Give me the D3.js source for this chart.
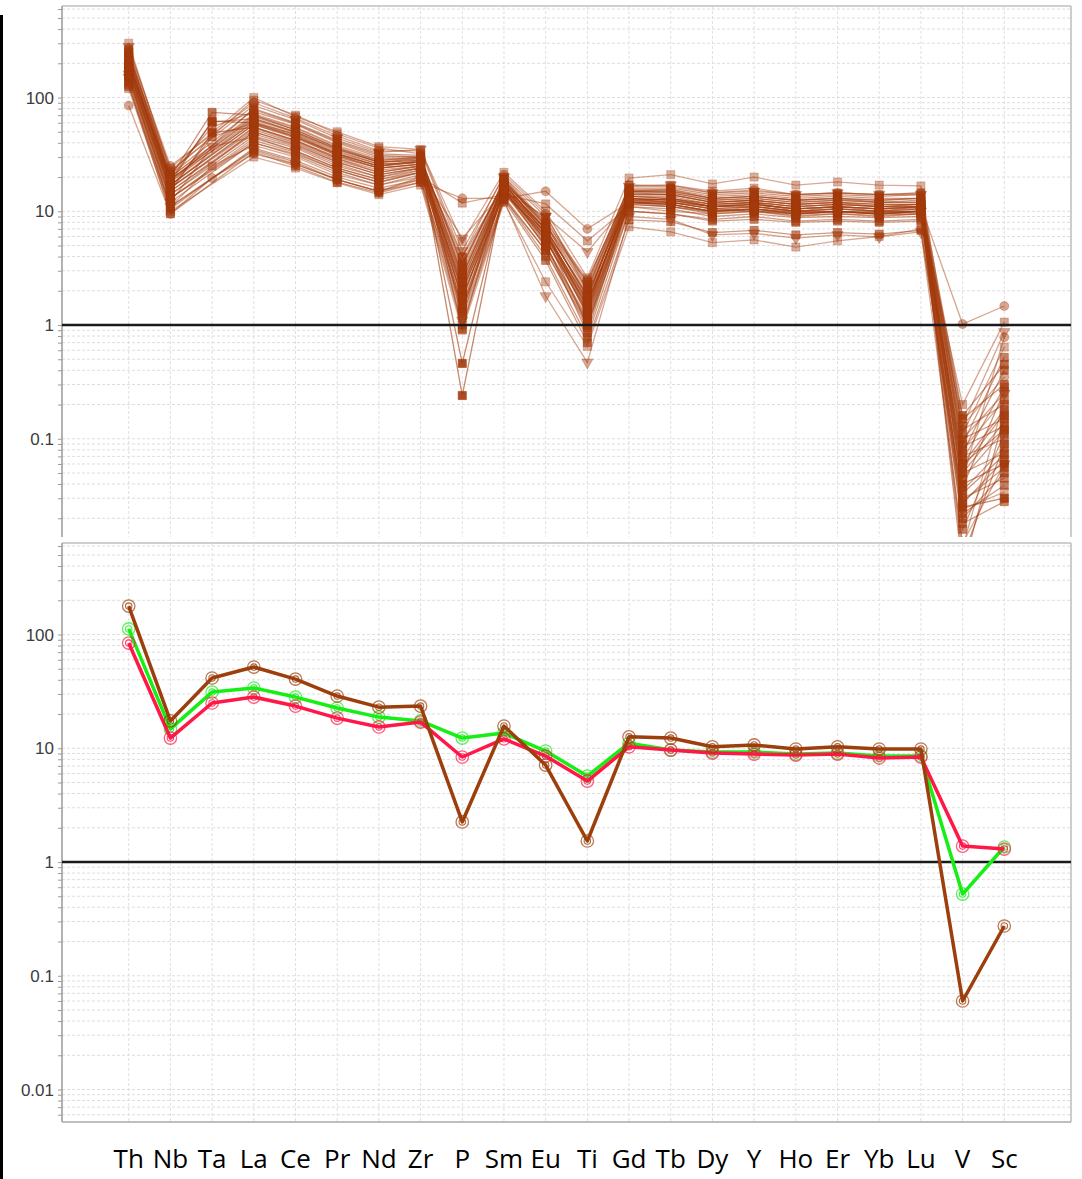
<!DOCTYPE html>
<html>
<head>
<meta charset="utf-8">
<script src="https://cdn.jsdelivr.net/npm/d3@7"></script>
<style>
  html, body { margin: 0; padding: 0; background: #fff; }
  svg { display: block; }
</style>
</head>
<body>
<svg id="chart" width="1082" height="1179"></svg>
<script>
// Primitive-mantle normalised trace element patterns
const elements = ["Th","Nb","Ta","La","Ce","Pr","Nd","Zr","P","Sm","Eu","Ti","Gd","Tb","Dy","Y","Ho","Er","Yb","Lu","V","Sc"];

const tickValues = [100, 10, 1, 0.1, 0.01];
const tickLabels = ["100", "10", "1", "0.1", "0.01"];
const yDomain = [0.00518, 638];

// Individual samples (upper panel); null = not analysed
const suiteValues = [
  [210, 18, 62, 60, 45, 32, 25, 28, 0.24, 16, 6.5, 1.2, 13, 12, 11, 11, 10, 10.5, 10, 10, 0.025, 0.03],
  [180, 15, 49, 55, 42, 30, 24, 26, 0.46, 15, 6, 1.0, 12, 12, 10.5, 10, 9.5, 10, 9.5, 9.5, 0.04, 0.06],
  [250, 20, 74, 70, 52, 36, 28, 30, 0.92, 17, 7, 1.4, 14, 14, 12, 12.5, 11.5, 12, 11, 11, 0.06, 0.12],
  [300, 22, null, 95, 70, 48, 36, 32, 1.15, 20, 8, 1.6, 17, 17, 15, 16, 14, 14.5, 14, 14.5, 0.08, 0.22],
  [85, 9.5, 19.6, 32, 26, 19, 15, 18, 13, 13, 15, 7, 12, 13, 11, 12, 10, 11, 10, 11, 1.02, 1.47],
  [140, 11, 25, 38, 30, 21, 17, 20, 11.8, 14, 11.6, 5.5, 11, 10, 9.5, 10, 9, 9.5, 9, 9.5, 0.2, 1.06],
  [160, 12, 37, 45, 34, 24, 19, 22, 5.8, 15, 9, 4.4, 12, 11, 10, 11, 10, 10, 9.5, 10, 0.13, 0.87],
  [230, 24, null, 100, 68, 50, 37, 35, 5.4, 22, 10, 2.6, 19.6, 21, 17.4, 20, 17, 18.1, 17, 16.7, 0.11, 0.64],
  [200, 16, 45, 60, 48, 33, 26, 27, 3.96, 17, 8.5, 2.2, 15, 15, 13, 13.5, 12.5, 13, 12, 12.5, 0.09, 0.52],
  [190, 19, 61, 65, 50, 35, 27, 29, 3.4, 18, 7.5, 2.0, 14.5, 14.5, 12.5, 13, 12, 12.5, 12, 12, 0.075, 0.4],
  [170, 14, null, 50, 38, 27, 21, 24, 2.75, 16, 7, 1.8, 13, 12.5, 11, 11.5, 10.5, 11, 10.5, 11, 0.065, 0.285],
  [155, 13, null, 42, 33, 23, 18, 22, 2.34, 14, 6.5, 1.6, 12, 11.5, 10, 10.5, 9.5, 10, 9.5, 10, 0.055, 0.168],
  [220, 17, null, 58, 44, 31, 24, 26, 1.9, 16.5, 5.5, 1.5, 13.5, 13, 11.5, 12, 11, 11.5, 11, 11, 0.045, 0.119],
  [260, 21, 55, 75, 58, 40, 30, 30, 1.6, 19, 6.8, 1.3, 15.5, 15.5, 13.5, 14, 13, 13.5, 13, 13, 0.035, 0.084],
  [175, 15, null, 48, 37, 26, 20, 23, 1.35, 15, 5, 1.1, 12.5, 12, 10.5, 11, 10, 10.5, 10, 10.5, 0.028, 0.056],
  [150, 12, null, 40, 31, 22, 17, 21, 1.8, 13.5, 4.5, 0.95, 11, 10.5, 9, 9.5, 8.8, 9, 8.8, 9, 0.022, 0.039],
  [135, 10.5, null, 36, 28, 20, 16, 19, 1.4, 13, 4, 0.78, 10, 9.5, 8.2, 8.5, 8, 8.2, 8, 8.2, 0.018, 0.028],
  [240, 19, null, 68, 52, 36, 27, 28, 2.1, 18, 6.2, 1.7, 14.5, 14, 12, 12.5, 11.5, 12, 11.5, 11.5, 0.15, 0.3],
  [205, 17, null, 62, 47, 32, 25, 27, 3.0, 17, 6.8, 1.9, 13.5, 13.5, 11.5, 12, 11, 11.5, 11, 11.5, 0.12, 0.2],
  [185, 16, null, 55, 42, 29, 23, 25, 2.5, 16, 6, 1.5, 13, 12.5, 11, 11.5, 10.5, 11, 10.5, 10.5, 0.1, 0.15],
  [165, 14, null, 46, 36, 25, 20, 24, 2.0, 15, 5.5, 1.3, 12, 11.5, 10, 10.5, 9.8, 10, 9.8, 10, 0.085, 0.13],
  [145, 13, null, 40, 32, 23, 18, 22, 1.5, 14.5, 5, 1.15, 11.5, 11, 9.5, 10, 9.2, 9.5, 9.2, 9.5, 0.07, 0.1],
  [125, 11, null, 35, 27, 19, 15, 20, 1.2, 13, 4.5, 1.0, 10, 9.5, 8.5, 9, 8.2, 8.5, 8.2, 8.5, 0.05, 0.075],
  [215, 18, null, 80, 60, 42, 32, 31, 2.6, 19.5, 7.5, 2.4, 16, 16, 14, 14.5, 13.5, 14, 13.5, 14, 0.16, 0.45],
  [195, 20, null, 72, 55, 38, 29, 29, 3.2, 18.5, 8, 2.5, 15, 15.5, 13, 13.5, 12.5, 13, 12.5, 13, 0.13, 0.35],
  [280, 23, null, 85, 64, 44, 33, 35, 4.5, 20, 9, 2.3, 16.5, 17, 14.5, 15, 14, 14.5, 14, 14, 0.1, 0.25],
  [130, 9.5, null, 33, 25, 18, 14.5, 18, 1.0, 12.5, 3.7, 0.7, 8.4, 8.1, 6.5, 6.8, 6.2, 6.5, 6.3, 6.8, 0.03, 0.045],
  [120, 10, null, 30, 24, 17.8, 14, 17, 0.9, 12, 2.4, 0.65, 7.3, 6.6, 5.3, 5.6, 4.85, 5.5, 6, 7, 0.024, 0.034],
  [150, 11, null, 34, 26, 19, 15, 19, 1.1, 12.5, 1.8, 0.47, 9, 8.5, 6.2, 6.4, 5.8, 6.2, 5.95, 6.6, 0.012, 0.06],
  [175, 16, null, 52, 40, 28, 22, 25, 2.2, 16, 6.5, 1.6, 12.5, 13, 11, 11.5, 10.5, 11, 10.5, 11, 0.009, 0.09],
  [200, 18, null, 64, 49, 34, 26, 27, 2.8, 17, 7, 1.8, 14, 14, 12, 12.5, 11.5, 12, 11.5, 11.5, 0.007, 0.16],
  [230, 20, null, 70, 54, 37, 28, 29, 3.6, 18, 7.8, 2.1, 15, 14.5, 12.5, 13, 12, 12.5, 12, 12, 0.011, 0.22],
  [160, 13, null, 44, 34, 24, 19, 23, 1.7, 15, 5.8, 1.25, 11.5, 11, 9.8, 10.2, 9.5, 9.8, 9.5, 10, 0.016, 0.11],
  [270, 25, null, 90, 66, 46, 34, 34, 4.0, 21, 9.5, 2.0, 17, 16.4, 14.5, 15.4, 14, 14.5, 14, 14.5, 0.045, 0.78],
  [190, 17, null, 58, 45, 31, 24, 26, 1.45, 16, 5.2, 0.85, 12, 11.5, 10, 10.5, 9.8, 10, 9.8, 10, 0.02, 0.05],
  [210, 19, null, 66, 50, 35, 27, 28, 2.4, 17.5, 6.5, 1.4, 13.5, 13, 11.5, 12, 11, 11.5, 11, 11.5, 0.033, 0.072],
  [245, 21, null, 78, 59, 41, 31, 30, 3.3, 19, 7.2, 1.75, 15, 15, 13, 13.5, 12.5, 13, 12.5, 13, 0.05, 0.14],
  [170, 15, null, 50, 39, 27, 21, 24, 1.3, 15.5, 4.8, 1.05, 12, 11.5, 10, 10.5, 9.5, 10, 9.5, 10, 0.06, 0.18],
  [225, 19, null, 60, 46, 32, 25, 27, 2.0, 16.5, 6, 1.55, 13, 12.5, 11, 11.5, 10.5, 11, 10.5, 11, 0.038, 0.26],
  [185, 16, null, 54, 41, 29, 22, 25, 1.75, 15.5, 5.6, 1.35, 12.5, 12, 10.5, 11, 10, 10.5, 10, 10.5, 0.027, 0.065]
];
const suiteShapes = ["s","s","s","s","c","s","t","s","s","s","s","s","s","s","s","s","s","s","s","s",
                     "s","s","s","s","c","t","s","s","t","s","s","s","s","c","s","s","s","s","s","s"];
const suiteTone = [1,1,0.8,0.45,0.5,0.5,0.5,0.45,0.7,0.8,0.7,0.7,0.7,0.7,0.7,0.7,0.7,0.8,0.7,0.7,
                   0.7,0.7,0.7,0.8,0.5,0.6,0.7,0.45,0.5,0.8,0.8,0.5,0.7,0.5,0.8,0.8,0.7,0.7,0.8,0.7];

// Group averages (lower panel)
const avgBrown = [178, 17.4, 41.5, 51.8, 40.6, 28.8, 23.0, 23.5, 2.25, 15.7, 7.12, 1.53, 12.6, 12.3, 10.3, 10.7, 9.85, 10.3, 9.85, 9.85, 0.060, 0.274];
const avgGreen = [112, 14.8, 31.2, 33.9, 28.2, 22.6, 18.8, 17.4, 12.3, 13.6, 9.46, 5.70, 11.1, 9.65, 9.27, 9.27, 8.9, 9.08, 8.55, 8.55, 0.523, 1.355];
const avgRed   = [84.2, 12.3, 25.0, 28.2, 23.5, 18.4, 15.4, 17.0, 8.38, 12.1, 8.55, 5.15, 10.3, 9.65, 9.08, 8.9, 8.72, 8.9, 8.21, 8.38, 1.38, 1.30];

const svg = d3.select("#chart");
const left = 62, right = 1071;

const x = d3.scalePoint().domain(elements).range([left, right]).padding(1.6);

const minorValues = [];
for (let e = -3; e <= 2; e++) {
  for (let m = 1; m <= 9; m++) {
    const v = m * Math.pow(10, e);
    if (v >= yDomain[0] && v <= yDomain[1]) minorValues.push(v);
  }
}

const suiteColor = "#a33a0c";

function drawFrame(g, y, top, bottom, showBottom) {
  // horizontal dashed grid
  g.append("g").selectAll("line").data(minorValues.filter(v => y(v) >= top && y(v) <= bottom)).join("line")
    .attr("x1", left).attr("x2", right)
    .attr("y1", d => y(d)).attr("y2", d => y(d))
    .attr("stroke", "#dedede").attr("stroke-width", 1).attr("stroke-dasharray", "3,2");
  // vertical dashed grid
  g.append("g").selectAll("line").data(elements).join("line")
    .attr("x1", d => x(d)).attr("x2", d => x(d))
    .attr("y1", top).attr("y2", bottom)
    .attr("stroke", "#e0e0e0").attr("stroke-width", 1).attr("stroke-dasharray", "3,2");
  // borders
  g.append("line").attr("x1", left).attr("x2", right).attr("y1", top).attr("y2", top)
    .attr("stroke", "#cfcfcf").attr("stroke-width", 2);
  g.append("line").attr("x1", right).attr("x2", right).attr("y1", top).attr("y2", bottom)
    .attr("stroke", "#bdbdbd").attr("stroke-width", 1.5);
  if (showBottom) {
    g.append("line").attr("x1", left).attr("x2", right).attr("y1", bottom).attr("y2", bottom)
      .attr("stroke", "#a8a8a8").attr("stroke-width", 1.5);
  }
  // left axis with minor ticks
  const axis = d3.axisLeft(y).tickValues(minorValues.filter(v => y(v) >= top && y(v) <= bottom))
    .tickSize(4).tickFormat("");
  const ax = g.append("g").attr("transform", `translate(${left},0)`).call(axis);
  ax.select(".domain").remove();
  ax.selectAll(".tick line").attr("stroke", "#9a9a9a");
  g.append("line").attr("x1", left).attr("x2", left).attr("y1", top).attr("y2", bottom)
    .attr("stroke", "#9a9a9a").attr("stroke-width", 1.5);
  // decade labels
  const shown = tickValues.filter(v => y(v) >= top && y(v) <= bottom);
  g.append("g").selectAll("text").data(shown).join("text")
    .attr("x", left - 8).attr("y", d => y(d))
    .attr("dy", "0.36em").attr("text-anchor", "end")
    .attr("font-family", "Liberation Sans, Arial, sans-serif").attr("font-size", 17)
    .attr("fill", "#3c3c3c")
    .text(d => tickLabels[tickValues.indexOf(d)]);
}

function unityLine(g, y) {
  g.append("line").attr("x1", left).attr("x2", right).attr("y1", y(1)).attr("y2", y(1))
    .attr("stroke", "#1a1a1a").attr("stroke-width", 2.5);
}

// ---------- upper panel: all samples ----------
const topY = d3.scaleLog().domain(yDomain).range([585, 6]);
const topBottom = 537;
const gTop = svg.append("g");
drawFrame(gTop, topY, 6, topBottom, false);

svg.append("clipPath").attr("id", "clipTop")
  .append("rect").attr("x", left).attr("y", 6).attr("width", right - left).attr("height", topBottom - 6);

const plotTop = gTop.append("g").attr("clip-path", "url(#clipTop)");
const lineGen = d3.line().x(d => x(d.el)).y(d => topY(d.v));

const suitePoints = suiteValues.map(row =>
  row.map((v, i) => ({ el: elements[i], v })).filter(p => p.v != null));

plotTop.append("g").selectAll("path").data(suitePoints).join("path")
  .attr("d", lineGen).attr("fill", "none")
  .attr("stroke", suiteColor).attr("stroke-width", 1.3)
  .attr("stroke-opacity", (d, i) => 0.3 + 0.3 * suiteTone[i]);

const symTri = d3.symbol().type(d3.symbolTriangle).size(56)();
const symSq = d3.symbol().type(d3.symbolSquare).size(66)();
const symCi = d3.symbol().type(d3.symbolCircle).size(64)();

suitePoints.forEach((pts, i) => {
  const shape = suiteShapes[i];
  const path = shape === "s" ? symSq : shape === "c" ? symCi : symTri;
  plotTop.append("g").selectAll("path").data(pts).join("path")
    .attr("d", path)
    .attr("transform", d => `translate(${x(d.el)},${topY(d.v)})` + (shape === "t" ? " rotate(180)" : ""))
    .attr("fill", suiteColor).attr("fill-opacity", suiteTone[i] * 0.9)
    .attr("stroke", suiteColor).attr("stroke-opacity", suiteTone[i] * 0.6).attr("stroke-width", 1);
});
unityLine(plotTop, topY);

// ---------- lower panel: averages ----------
const botY = d3.scaleLog().domain(yDomain).range([1122, 543]);
const gBot = svg.append("g");
drawFrame(gBot, botY, 543, 1122, true);
unityLine(gBot, botY);

const avgSeries = [
  { values: avgGreen, color: "#16ee16" },
  { values: avgRed, color: "#ff1748" },
  { values: avgBrown, color: "#9c3f0d" }
];
const lineBot = d3.line().x(d => x(d.el)).y(d => botY(d.v));
avgSeries.forEach(s => {
  const pts = s.values.map((v, i) => ({ el: elements[i], v }));
  gBot.append("path").attr("d", lineBot(pts)).attr("fill", "none")
    .attr("stroke", s.color).attr("stroke-width", 3.5).attr("stroke-linejoin", "round");
  const mk = gBot.append("g").selectAll("g").data(pts).join("g")
    .attr("transform", d => `translate(${x(d.el)},${botY(d.v)})`);
  mk.append("circle").attr("r", 6.2).attr("fill", "none")
    .attr("stroke", s.color).attr("stroke-width", 1.3).attr("stroke-opacity", 0.7);
  mk.append("circle").attr("r", 3.2).attr("fill", "none")
    .attr("stroke", s.color).attr("stroke-width", 1.1).attr("stroke-opacity", 0.8);
});

// element labels
svg.append("g").selectAll("text").data(elements).join("text")
  .attr("x", d => x(d)).attr("y", 1168)
  .attr("text-anchor", "middle")
  .attr("font-family", "Open Sans, Noto Sans, sans-serif").attr("font-size", 26)
  .attr("fill", "#000")
  .text(d => d);

// left edge rule
svg.append("rect").attr("x", 0).attr("y", 15).attr("width", 3).attr("height", 1164).attr("fill", "#000");
</script>
</body>
</html>
